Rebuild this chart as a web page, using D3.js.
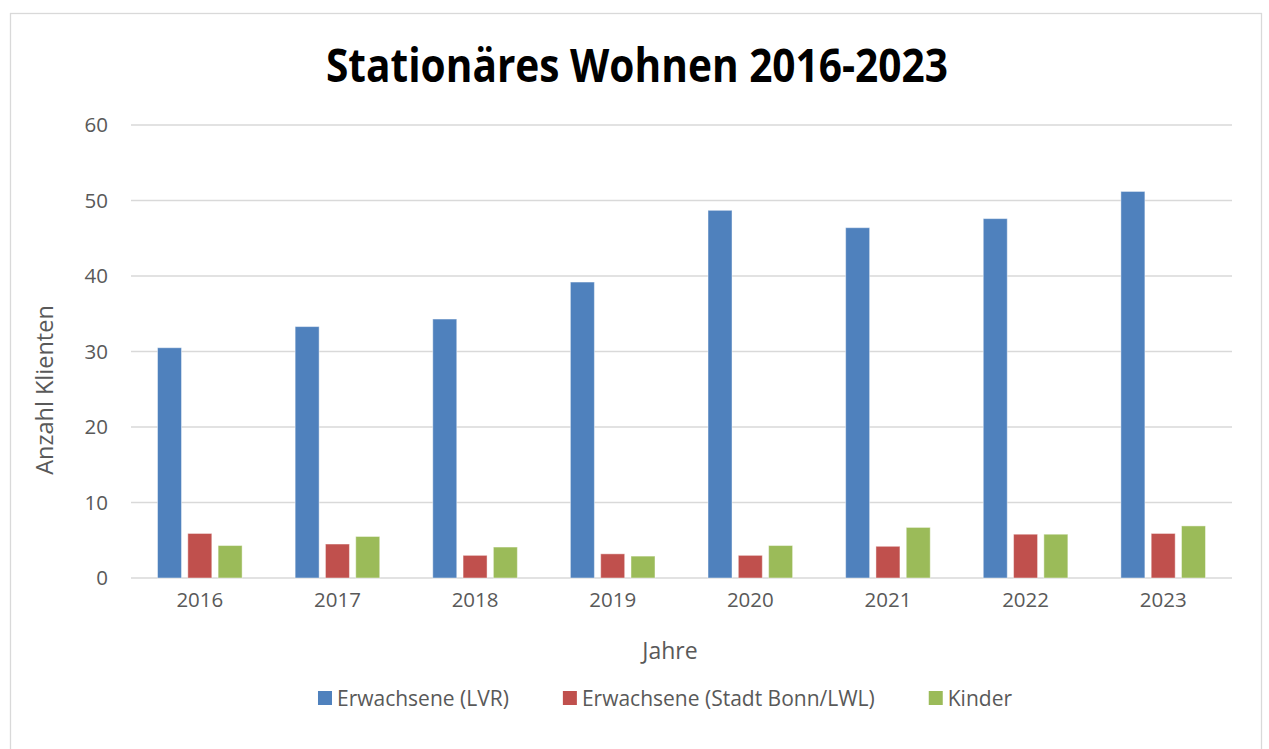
<!DOCTYPE html>
<html>
<head>
<meta charset="utf-8">
<script src="https://cdn.jsdelivr.net/npm/d3@7"></script>
<style>
  html, body { margin: 0; padding: 0; background: #fff; }
  svg { display: block; font-family: "Open Sans", sans-serif; }
</style>
</head>
<body>
<script>
// Stationäres Wohnen – grouped bars
const years = ["2016", "2017", "2018", "2019", "2020", "2021", "2022", "2023"];
const lvr    = [30.5, 33.3, 34.3, 39.2, 48.7, 46.4, 47.6, 51.2];
const bonn   = [5.9, 4.5, 3.0, 3.2, 3.0, 4.2, 5.8, 5.9];
const kinder = [4.3, 5.5, 4.1, 2.9, 4.3, 6.7, 5.8, 6.9];
const yTicks = [0, 10, 20, 30, 40, 50, 60];

const SERIES = [
    { key: "lvr",    label: "Erwachsene (LVR)",            color: "#4F81BD", values: lvr },
    { key: "bonn",   label: "Erwachsene (Stadt Bonn/LWL)", color: "#C0504D", values: bonn },
    { key: "kinder", label: "Kinder",                      color: "#9BBB59", values: kinder },
];

const W = 1269, H = 749;
const plot = { left: 131, right: 1232, top: 125, bottom: 578 };

const svg = d3.select("body").append("svg")
    .attr("width", W)
    .attr("height", H);

// chart frame
svg.append("rect")
    .attr("x", 10.5).attr("y", 13.5)
    .attr("width", 1251).attr("height", 760)
    .attr("fill", "#fff")
    .attr("stroke", "#d9d9d9")
    .attr("stroke-width", 1.3);

const x0 = d3.scaleBand().domain(years).range([plot.left, plot.right]).padding(0);
const groupW = 84.6;
const x1 = d3.scaleBand()
    .domain(SERIES.map(s => s.key))
    .range([(x0.bandwidth() - groupW) / 2, (x0.bandwidth() + groupW) / 2])
    .paddingInner(0.208)
    .paddingOuter(0);
const y = d3.scaleLinear().domain([0, 60]).range([plot.bottom, plot.top]);

// gridlines
svg.append("g")
    .selectAll("line")
    .data(yTicks)
    .join("line")
    .attr("x1", plot.left).attr("x2", plot.right)
    .attr("y1", d => y(d)).attr("y2", d => y(d))
    .attr("stroke", "#d9d9d9")
    .attr("stroke-width", 1.4);

// y axis labels
const yAxis = svg.append("g")
    .attr("transform", `translate(${plot.left - 10},0)`)
    .call(d3.axisLeft(y).tickValues(yTicks).tickSize(0).tickPadding(13));
yAxis.select(".domain").remove();
yAxis.selectAll("text")
    .attr("font-size", 20.5)
    .attr("font-family", "Open Sans")
    .attr("fill", "#595959");

// x axis labels
const xAxis = svg.append("g")
    .attr("transform", `translate(0,${plot.bottom})`)
    .call(d3.axisBottom(x0).tickSize(0).tickPadding(14));
xAxis.select(".domain").remove();
xAxis.selectAll("text")
    .attr("font-size", 20.5)
    .attr("font-family", "Open Sans")
    .attr("fill", "#595959");

// bars
const groups = svg.append("g")
    .selectAll("g")
    .data(years)
    .join("g")
    .attr("transform", d => `translate(${x0(d)},0)`);

groups.selectAll("rect")
    .data((d, i) => SERIES.map(s => ({ key: s.key, color: s.color, value: s.values[i] })))
    .join("rect")
    .attr("x", d => x1(d.key))
    .attr("width", x1.bandwidth())
    .attr("y", d => y(d.value))
    .attr("height", d => y(0) - y(d.value))
    .attr("fill", d => d.color)
    .attr("stroke", "#ffffff")
    .attr("stroke-opacity", 0.45)
    .attr("stroke-width", 1);

// title
svg.append("text")
    .attr("x", 637).attr("y", 82)
    .attr("text-anchor", "middle")
    .attr("font-size", 46)
    .attr("font-weight", "bold")
    .attr("fill", "#000")
    .attr("textLength", 622)
    .attr("lengthAdjust", "spacingAndGlyphs")
    .text("Stationäres Wohnen 2016-2023");

// axis titles
svg.append("text")
    .attr("transform", `translate(53,390) rotate(-90)`)
    .attr("text-anchor", "middle")
    .attr("font-size", 23.5)
    .attr("fill", "#595959")
    .text("Anzahl Klienten");

svg.append("text")
    .attr("x", 670).attr("y", 659)
    .attr("text-anchor", "middle")
    .attr("font-size", 23)
    .attr("fill", "#595959")
    .text("Jahre");

// legend
const legend = svg.append("g");
const items = legend.selectAll("g")
    .data(SERIES)
    .join("g");
items.append("rect")
    .attr("width", 14).attr("height", 14)
    .attr("y", -7)
    .attr("fill", d => d.color);
items.append("text")
    .attr("x", 19).attr("y", 7.5)
    .attr("font-size", 21)
    .attr("fill", "#595959")
    .text(d => d.label);

let cx = 0;
const gap = 54;
items.each(function() {
    const g = d3.select(this);
    g.attr("transform", `translate(${cx},0)`);
    cx += 19 + g.select("text").node().getComputedTextLength() + gap;
});
const legendW = cx - gap;
legend.attr("transform", `translate(${665 - legendW / 2},698)`);
</script>
</body>
</html>
